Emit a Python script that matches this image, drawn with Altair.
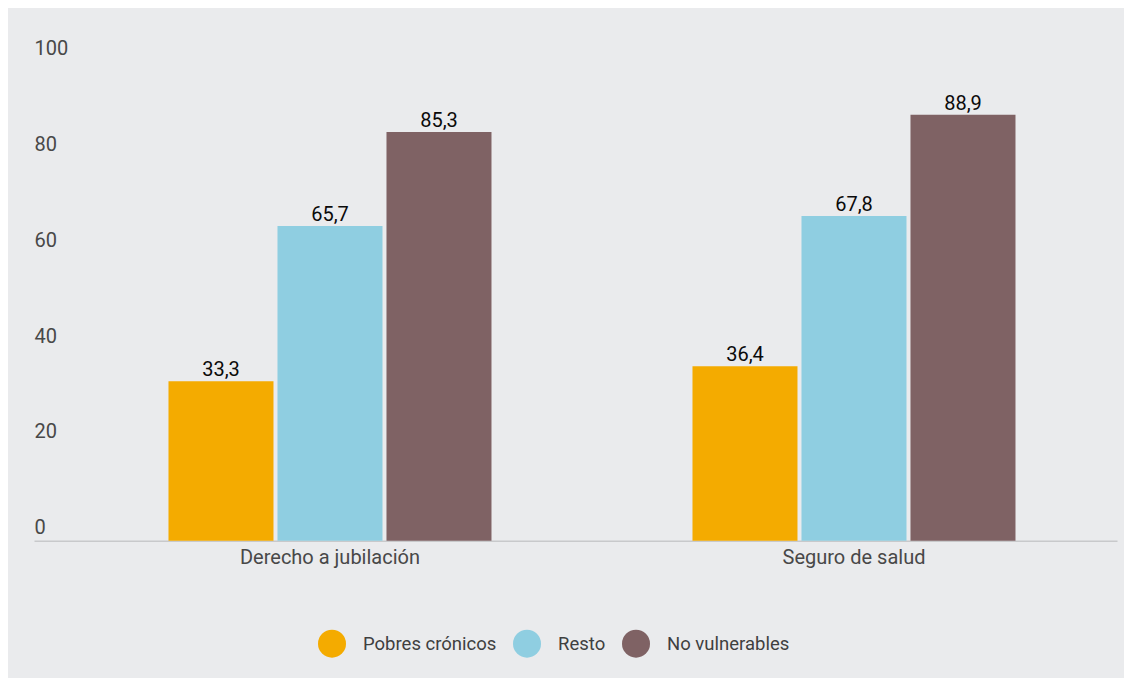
import altair as alt
import pandas as pd

categories = ["Derecho a jubilación", "Seguro de salud"]
groups = ["Pobres crónicos", "Resto", "No vulnerables"]
pobres_cronicos = [33.3, 36.4]
resto = [65.7, 67.8]
no_vulnerables = [85.3, 88.9]
colors = ["#F4AB00", "#8FCEE1", "#7F6264"]
y_ticks = [0, 20, 40, 60, 80, 100]

rows = []
for g, vals in zip(groups, [pobres_cronicos, resto, no_vulnerables]):
    for c, v in zip(categories, vals):
        rows.append({"categoria": c, "grupo": g, "valor": v,
                     "etiqueta": f"{v:.1f}".replace(".", ",")})
df = pd.DataFrame(rows)

FONT = "Roboto"

x_enc = alt.X("categoria:N", sort=categories, title=None,
              scale=alt.Scale(paddingInner=0, paddingOuter=0.0334, align=0.971),
              axis=alt.Axis(labelAngle=0, ticks=False, domainColor="#C8C9CB",
                            domainWidth=1.5, labelFontSize=20, labelColor="#484848",
                            labelFont=FONT, labelPadding=7, labelBaseline="top",
                            labelLimit=500))
xoff_enc = alt.XOffset("grupo:N", sort=groups,
                       scale=alt.Scale(paddingInner=0.0367, paddingOuter=0.922))
y_enc = alt.Y("valor:Q", title=None,
              scale=alt.Scale(domain=[0, 100], nice=False),
              axis=alt.Axis(values=y_ticks, grid=False, domain=False, ticks=False,
                            labelAlign="left", labelPadding=0, labelOffset=-13,
                            labelBaseline="middle", labelFontSize=20,
                            labelColor="#484848", labelFont=FONT))

bars = alt.Chart(df).mark_bar().encode(
    x=x_enc,
    xOffset=xoff_enc,
    y=y_enc,
    color=alt.Color("grupo:N", sort=groups,
                    scale=alt.Scale(domain=groups, range=colors),
                    legend=alt.Legend(title=None, orient="none", direction="horizontal",
                                      legendX=284, legendY=568,
                                      symbolType="circle", symbolSize=784,
                                      symbolStrokeWidth=0, symbolOpacity=1,
                                      labelFontSize=18.5, labelFont=FONT,
                                      labelColor="#3F3F3F", labelOffset=17,
                                      columnPadding=16)),
)

text = alt.Chart(df).mark_text(baseline="alphabetic", dy=-5, fontSize=20,
                               font=FONT, fontWeight="normal", color="#0A0A0A").encode(
    x=alt.X("categoria:N", sort=categories),
    xOffset=alt.XOffset("grupo:N", sort=groups),
    y=alt.Y("valor:Q"),
    text="etiqueta:N",
)

chart = alt.layer(bars, text).properties(
    width=1083, height=479,
    autosize=alt.AutoSizeParams(type="none"),
    padding={"left": 26, "top": 53.7, "right": 7, "bottom": 137.3},
    background="#EAEBED",
).configure_view(stroke=None)

chart.save("out.html", embed_options={"renderer": "svg", "actions": False})
